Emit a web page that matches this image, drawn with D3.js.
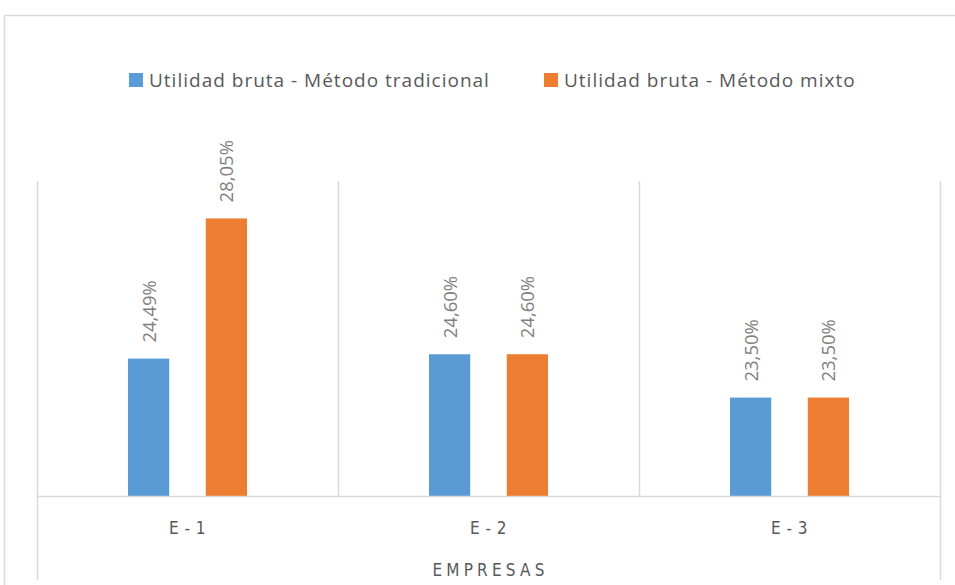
<!DOCTYPE html>
<html>
<head>
<meta charset="utf-8">
<script src="https://cdn.jsdelivr.net/npm/d3@7"></script>
<style>
  body { margin: 0; background: #fff; }
  svg { display: block; }
</style>
</head>
<body>
<svg id="vis" width="955" height="585"></svg>
<script>
// data
const empresas = ['E - 1', 'E - 2', 'E - 3']
const series = ['Utilidad bruta - Método tradicional', 'Utilidad bruta - Método mixto']
const tradicional = [0.2449, 0.2460, 0.2350]
const mixto = [0.2805, 0.2460, 0.2350]
const colors = ['#5B9BD5', '#ED7D31']

const plot = {left: 37, right: 940, top: 181, bottom: 496}
const narrow = 'DejaVu Sans Condensed, Liberation Sans Narrow, sans-serif'

const svg = d3.select('#vis')

// outer chart frame (cropped on right and bottom)
svg.append('rect')
    .attr('x', 4.5).attr('y', 15.5)
    .attr('width', 1000).attr('height', 1000)
    .attr('fill', 'none')
    .attr('stroke', '#d9d9d9')
    .attr('stroke-width', 1.5)

const x0 = d3.scaleBand()
    .domain(empresas)
    .range([plot.left, plot.right])

const x1 = d3.scaleBand()
    .domain(series)
    .range([0, x0.bandwidth()])
    .paddingInner(0.47)
    .paddingOuter(1.17)

const y = d3.scaleLinear()
    .domain([0.21, 0.29])
    .range([plot.bottom, plot.top])

const color = d3.scaleOrdinal().domain(series).range(colors)

// vertical gridlines at category boundaries
const bounds = empresas.map(d => x0(d)).concat([plot.right])
svg.append('g').selectAll('line')
    .data(bounds)
    .join('line')
    .attr('x1', d => Math.round(d) + 0.5)
    .attr('x2', d => Math.round(d) + 0.5)
    .attr('y1', plot.top)
    .attr('y2', (d, i) => (i === 0 || i === bounds.length - 1) ? 580 : plot.bottom)
    .attr('stroke', '#d9d9d9')
    .attr('stroke-width', 1.5)

// bars
const rows = empresas.map((e, i) => ({empresa: e, values: [
    {serie: series[0], value: tradicional[i]},
    {serie: series[1], value: mixto[i]}
]}))

const groups = svg.append('g').selectAll('g')
    .data(rows)
    .join('g')
    .attr('transform', d => 'translate(' + x0(d.empresa) + ',0)')

groups.selectAll('rect')
    .data(d => d.values)
    .join('rect')
    .attr('x', d => x1(d.serie))
    .attr('y', d => y(d.value))
    .attr('width', x1.bandwidth())
    .attr('height', d => plot.bottom - y(d.value))
    .attr('fill', d => color(d.serie))

// data labels, rotated
const fmt = v => (v * 100).toFixed(2).replace('.', ',') + '%'
groups.selectAll('text')
    .data(d => d.values)
    .join('text')
    .attr('transform', d => 'translate(' + (x1(d.serie) + x1.bandwidth() / 2 + 7) + ',' + (y(d.value) - 16) + ') rotate(-90)')
    .attr('font-family', 'Open Sans, sans-serif')
    .attr('font-size', '18.5px')
    .attr('fill', '#7f7f7f')
    .text(d => fmt(d.value))

// baseline
svg.append('line')
    .attr('x1', plot.left).attr('x2', plot.right)
    .attr('y1', plot.bottom + 0.5).attr('y2', plot.bottom + 0.5)
    .attr('stroke', '#d9d9d9')
    .attr('stroke-width', 1.5)

// category labels
svg.append('g').selectAll('text')
    .data(empresas)
    .join('text')
    .attr('x', d => x0(d) + x0.bandwidth() / 2)
    .attr('y', 534)
    .attr('text-anchor', 'middle')
    .attr('font-family', narrow)
    .attr('font-size', '17px')
    .attr('letter-spacing', '0.5px')
    .attr('fill', '#595959')
    .text(d => d)

// axis title
svg.append('text')
    .attr('x', (plot.left + plot.right) / 2 + 2)
    .attr('y', 576)
    .attr('text-anchor', 'middle')
    .attr('font-family', narrow)
    .attr('font-size', '17px')
    .attr('letter-spacing', '4.2px')
    .attr('fill', '#595959')
    .text('EMPRESAS')

// legend
const legendX = [129, 544]
const legend = svg.append('g').selectAll('g')
    .data(series)
    .join('g')
    .attr('transform', (d, i) => 'translate(' + legendX[i] + ',73)')

legend.append('rect')
    .attr('width', 14).attr('height', 14)
    .attr('fill', d => color(d))

legend.append('text')
    .attr('x', 20)
    .attr('y', 13.5)
    .attr('font-family', 'Open Sans, sans-serif')
    .attr('font-size', '19px')
    .attr('letter-spacing', '1px')
    .attr('fill', '#595959')
    .text(d => d)
</script>
</body>
</html>
